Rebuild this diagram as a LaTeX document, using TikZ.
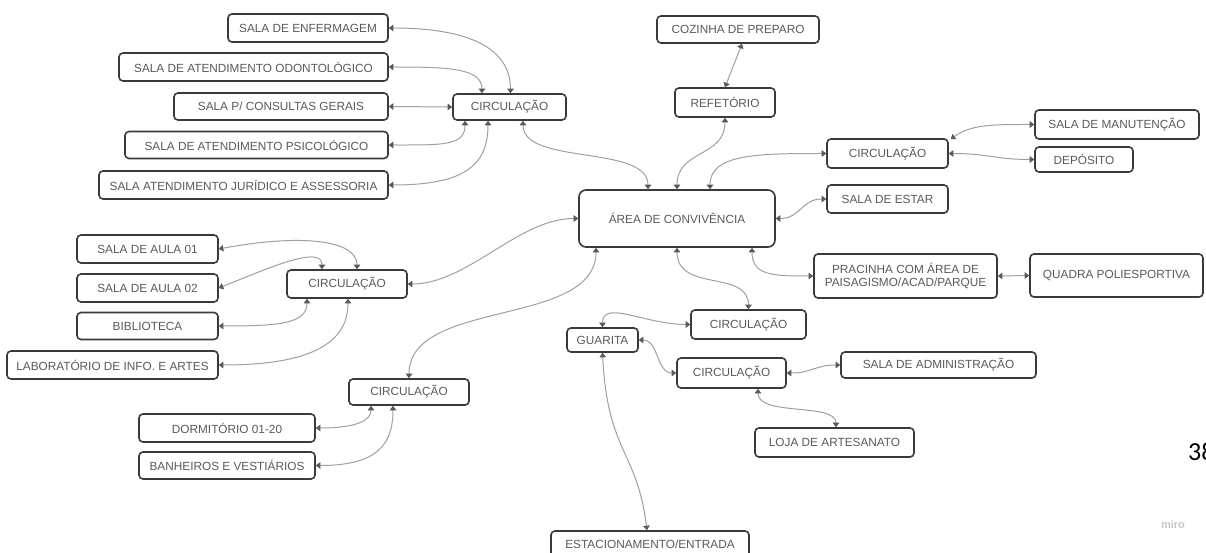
\documentclass[tikz,border=0pt]{standalone}
\usepackage{fontspec}
\setmainfont{Liberation Sans}
\newfontfamily\numfont{Carlito}
\usetikzlibrary{arrows.meta}
\definecolor{boxline}{HTML}{3A3A3A}
\definecolor{txt}{HTML}{5A5A5A}
\definecolor{conn}{HTML}{A0A0A0}
\definecolor{tipc}{HTML}{5A5A5A}
\begin{document}
\begin{tikzpicture}[x=1pt,y=-1pt,
  box/.style={draw=boxline,line width=1.6pt,rounded corners=4pt,fill=white,text=txt,
    font=\fontsize{11.8}{13.5}\selectfont,inner sep=0pt,align=center},
  link/.style={draw=conn,line width=1pt,
    {Triangle[length=4.5pt,width=6.5pt,color=tipc]}-{Triangle[length=4.5pt,width=6.5pt,color=tipc]}}
]
\useasboundingbox[fill=white] (0,0) rectangle (1206,553);

% ---- nodes ----
\node[box,minimum width=160pt,minimum height=28pt] (enf) at (308,28) {SALA DE ENFERMAGEM};
\node[box,minimum width=269pt,minimum height=28pt] (odo) at (253.5,67) {SALA DE ATENDIMENTO ODONTOLÓGICO};
\node[box,minimum width=214pt,minimum height=27pt] (cons) at (281,106.5) {SALA P/ CONSULTAS GERAIS};
\node[box,minimum width=263pt,minimum height=27pt] (psi) at (256.5,145) {SALA DE ATENDIMENTO PSICOLÓGICO};
\node[box,minimum width=289pt,minimum height=28pt] (jur) at (243.5,185) {SALA ATENDIMENTO JURÍDICO E ASSESSORIA};
\node[box,minimum width=113pt,minimum height=26pt] (c1) at (509.5,107) {CIRCULAÇÃO};
\node[box,minimum width=162pt,minimum height=27pt] (coz) at (738,29.5) {COZINHA DE PREPARO};
\node[box,minimum width=100pt,minimum height=29pt] (ref) at (725,102.5) {REFETÓRIO};
\node[box,minimum width=196pt,minimum height=57pt,rounded corners=7pt] (area) at (677,218.5) {ÁREA DE CONVIVÊNCIA};
\node[box,minimum width=121pt,minimum height=29pt] (c2) at (887.5,153.5) {CIRCULAÇÃO};
\node[box,minimum width=164pt,minimum height=29pt] (man) at (1117,124.5) {SALA DE MANUTENÇÃO};
\node[box,minimum width=98pt,minimum height=25pt] (dep) at (1084,159.5) {DEPÓSITO};
\node[box,minimum width=121pt,minimum height=28pt] (estar) at (887.5,199) {SALA DE ESTAR};
\node[box,minimum width=183pt,minimum height=44pt] (prac) at (905.5,276) {PRACINHA COM ÁREA DE\\PAISAGISMO/ACAD/PARQUE};
\node[box,minimum width=173pt,minimum height=43pt] (quad) at (1116.5,275.5) {QUADRA POLIESPORTIVA};
\node[box,minimum width=141pt,minimum height=28pt] (a01) at (147.5,249) {SALA DE AULA 01};
\node[box,minimum width=141pt,minimum height=28pt] (a02) at (147.5,288) {SALA DE AULA 02};
\node[box,minimum width=141pt,minimum height=27pt] (bib) at (147.5,326) {BIBLIOTECA};
\node[box,minimum width=211pt,minimum height=28pt] (lab) at (112.5,365) {LABORATÓRIO DE INFO. E ARTES};
\node[box,minimum width=120pt,minimum height=28pt] (c3) at (347,284) {CIRCULAÇÃO};
\node[box,minimum width=120pt,minimum height=26pt] (c4) at (409,392) {CIRCULAÇÃO};
\node[box,minimum width=176pt,minimum height=28pt] (dorm) at (227,428) {DORMITÓRIO 01-20};
\node[box,minimum width=176pt,minimum height=27pt] (ban) at (227,465.5) {BANHEIROS E VESTIÁRIOS};
\node[box,minimum width=71pt,minimum height=24pt] (gua) at (602.5,340) {GUARITA};
\node[box,minimum width=115pt,minimum height=29pt] (c5) at (748.5,324.5) {CIRCULAÇÃO};
\node[box,minimum width=109pt,minimum height=30pt] (c6) at (731.5,373) {CIRCULAÇÃO};
\node[box,minimum width=195pt,minimum height=26pt] (adm) at (938.5,365) {SALA DE ADMINISTRAÇÃO};
\node[box,minimum width=159pt,minimum height=29pt] (loja) at (834.5,442.5) {LOJA DE ARTESANATO};
\node[box,minimum width=198pt,minimum height=27pt] (est) at (650,544.5) {ESTACIONAMENTO/ENTRADA};

\node[anchor=base west,inner sep=0pt,font=\numfont\fontsize{26}{30}\selectfont] (pg) at (1188,460) {38};
\node[inner sep=0pt,text=black!22,font=\bfseries\fontsize{11}{12}\selectfont] (miro) at (1173,525) {miro};

% ---- connectors ----
\draw[link] (enf.east) .. controls +(80,0) and +(0,-45) .. ([xshift=1pt]c1.north);
\draw[link] (odo.east) .. controls +(60,0) and +(0,-25) .. ([xshift=-27.5pt]c1.north);
\draw[link] (cons.east) -- (c1.west);
\draw[link] (psi.east) .. controls +(55,0) and +(0,25) .. ([xshift=-44.5pt]c1.south);
\draw[link] (jur.east) .. controls +(75,0) and +(0,45) .. ([xshift=-21.5pt]c1.south);
\draw[link] ([xshift=13.5pt]c1.south) .. controls +(0,45) and +(0,-45) .. ([xshift=-29pt]area.north);
\draw[link] (area.north) .. controls +(0,-40) and +(0,40) .. (ref.south);
\draw[link] (ref.north) -- ([xshift=4pt]coz.south);
\draw[link] ([xshift=33pt]area.north) .. controls +(0,-35) and +(-70,0) .. (c2.west);
\draw[link] ([xshift=2pt,yshift=-1pt]c2.north east) .. controls +(20,-15) and +(-40,0) .. (man.west);
\draw[link] (c2.east) .. controls +(40,0) and +(-40,0) .. (dep.west);
\draw[link] (area.east) .. controls +(25,0) and +(-25,0) .. (estar.west);
\draw[link] ([xshift=75pt]area.south) .. controls +(0,28) and +(-40,0) .. (prac.west);
\draw[link] (prac.east) -- (quad.west);
\draw[link] (area.south) .. controls +(0,45) and +(0,-40) .. (c5.north);
\draw[link] ([xshift=-81pt]area.south) .. controls +(0,80) and +(0,-80) .. (c4.north);
\draw[link] (area.west) .. controls +(-60,0) and +(60,0) .. (c3.east);
\draw[link] (c5.west) .. controls +(-45,0) and +(0,-28) .. (gua.north);
\draw[link] (gua.east) .. controls +(20,0) and +(-20,0) .. (c6.west);
\draw[link] (gua.south) .. controls +(5,100) and +(-10,-80) .. ([xshift=-3pt]est.north);
\draw[link] (c6.east) .. controls +(25,0) and +(-25,0) .. (adm.west);
\draw[link] ([xshift=26.5pt]c6.south) .. controls +(0,28) and +(0,-25) .. ([xshift=1.5pt]loja.north);
\draw[link] (a01.east) .. controls +(80,-15) and +(0,-30) .. ([xshift=10pt]c3.north);
\draw[link] (a02.east) .. controls +(50,-20) and +(0,-25) .. ([xshift=-25pt]c3.north);
\draw[link] (bib.east) .. controls +(60,0) and +(0,25) .. ([xshift=-40pt]c3.south);
\draw[link] (lab.east) .. controls +(100,0) and +(0,40) .. ([xshift=1pt]c3.south);
\draw[link] (dorm.east) .. controls +(40,0) and +(0,15) .. ([xshift=-38pt]c4.south);
\draw[link] (ban.east) .. controls +(60,0) and +(0,40) .. ([xshift=-16pt]c4.south);
\end{tikzpicture}
\end{document}
